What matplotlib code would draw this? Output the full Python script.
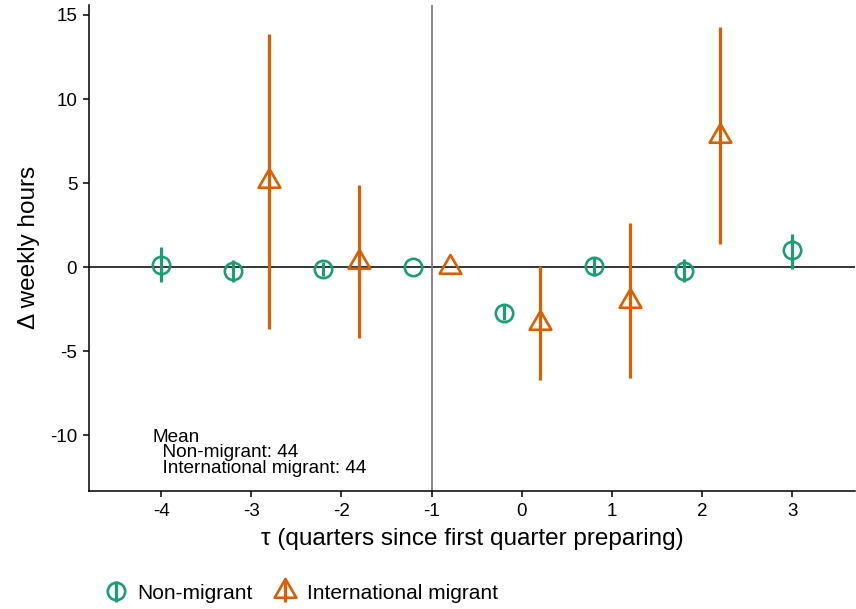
import matplotlib.pyplot as plt
from matplotlib.path import Path
import numpy as np

plt.rcParams['font.family'] = ['Liberation Sans', 'DejaVu Sans']

# event-study estimates
tau_non = [-4, -3, -2, -1, 0, 1, 2, 3]
est_non = [0.15, -0.25, -0.13, 0.0, -2.7, 0.05, -0.2, 1.0]
lo_non = [-0.9, -0.9, -0.55, 0.0, -3.15, -0.55, -0.9, -0.1]
hi_non = [1.2, 0.45, 0.3, 0.0, -2.25, 0.6, 0.5, 2.0]

tau_mig = [-3, -2, -1, 0, 1, 2]
est_mig = [5.1, 0.3, 0.0, -3.3, -2.0, 7.8]
lo_mig = [-3.7, -4.2, 0.0, -6.7, -6.6, 1.35]
hi_mig = [13.85, 4.9, 0.0, 0.1, 2.6, 14.3]

x_ticks = [-4, -3, -2, -1, 0, 1, 2, 3]
y_ticks = [-10, -5, 0, 5, 10, 15]

GREEN = '#1B9E77'
ORANGE = '#D95F02'

# dodge: shift groups apart only where both groups share a tau
shared = set(tau_non) & set(tau_mig)
x_non = np.array([t - 0.2 if t in shared else t for t in tau_non], dtype=float)
x_mig = np.array([t + 0.2 if t in shared else t for t in tau_mig], dtype=float)

# R style open triangle, centred on its centroid
tri = Path([(0, 1), (0.866, -0.5), (-0.866, -0.5), (0, 1)],
           [Path.MOVETO, Path.LINETO, Path.LINETO, Path.CLOSEPOLY])

fig = plt.figure(figsize=(8.56, 6.09), dpi=100)
ax = fig.add_axes([0.104, 0.194, 0.895, 0.798])

ax.axhline(0, color='black', lw=1.1, zorder=1)
ax.axvline(-1, color='#7f7f7f', lw=1.3, zorder=1)


def pointrange(x, est, lo, hi, color, marker, ms, label):
    est = np.array(est)
    yerr = [est - np.array(lo), np.array(hi) - est]
    return ax.errorbar(x, est, yerr=yerr, fmt='', marker=marker, linestyle='none',
                       ms=ms, mfc='none', mec=color, mew=1.9, ecolor=color,
                       elinewidth=2.3, capsize=0, label=label, zorder=3)


h1 = pointrange(x_non, est_non, lo_non, hi_non, GREEN, 'o', 12.5, 'Non-migrant')
h2 = pointrange(x_mig, est_mig, lo_mig, hi_mig, ORANGE, tri, 18, 'International migrant')

ax.set_xlim(-4.8, 3.7)
ax.set_ylim(-13.3, 15.6)
ax.set_xticks(x_ticks)
ax.set_yticks(y_ticks)
ax.set_xticklabels([str(t) for t in x_ticks])
ax.set_yticklabels([str(t) for t in y_ticks])

for s in ['top', 'right']:
    ax.spines[s].set_visible(False)
for s in ['left', 'bottom']:
    ax.spines[s].set_linewidth(1.1)
ax.tick_params(length=4, width=1.1, labelsize=13.5, colors='black', pad=4.5)

ax.set_xlabel('τ (quarters since first quarter preparing)', fontsize=17.5, labelpad=6)
ax.set_ylabel('Δ weekly hours', fontsize=17.5, labelpad=7)

ax.text(-4.1, -9.6, 'Mean\n  Non-migrant: 44\n  International migrant: 44',
        fontsize=13.7, ha='left', va='top', linespacing=0.9)

fig.legend(handles=[h1, h2], loc='center left', bbox_to_anchor=(0.1, 0.026),
           ncol=2, frameon=False, fontsize=15, handlelength=1.1,
           handletextpad=0.5, columnspacing=1.0, numpoints=1)

fig.savefig('out.png', dpi=100)
